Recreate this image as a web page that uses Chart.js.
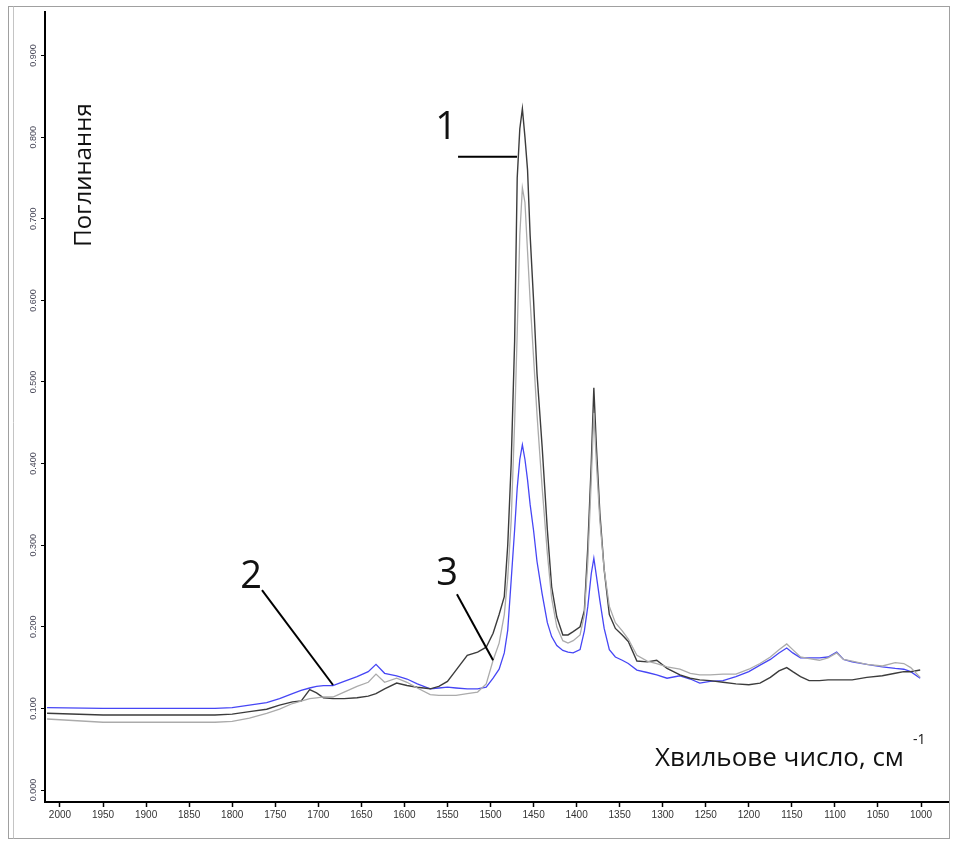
<!DOCTYPE html>
<html>
<head>
<meta charset="utf-8">
<title>IR spectra</title>
<script src="https://cdn.jsdelivr.net/npm/chart.js@4.4.1/dist/chart.umd.min.js"></script>
<style>
  html, body { margin: 0; padding: 0; background: #fff; }
  #wrap { position: relative; width: 953px; height: 841px; }
</style>
</head>
<body>
<div id="wrap"><canvas id="spec" width="953" height="841"></canvas></div>
<script>
// --- data (wavenumber, cm-1)
const wavenumbers = [2015, 1950, 1900, 1850, 1820, 1800, 1780, 1760, 1745, 1730, 1720, 1710, 1702, 1694, 1683, 1670,
  1655, 1642, 1633, 1623, 1609, 1597, 1585, 1570, 1560, 1550, 1540, 1527, 1515, 1505, 1497, 1490, 1484, 1480, 1476,
  1472, 1469, 1466, 1463, 1460, 1457, 1454, 1450, 1446, 1440, 1434, 1429, 1423, 1416, 1410, 1404, 1396, 1391, 1387,
  1383, 1380, 1377, 1373, 1368, 1362, 1355, 1347, 1340, 1330, 1318, 1307, 1295, 1280, 1268, 1257, 1245, 1230, 1215,
  1200, 1187, 1175, 1165, 1156, 1149, 1140, 1130, 1118, 1108, 1098, 1090, 1080, 1063, 1045, 1030, 1020, 1012, 1001];

// curve 1 (dark)
const absorb1 = [0.094, 0.092, 0.092, 0.092, 0.092, 0.093, 0.096, 0.099, 0.104, 0.108, 0.109, 0.123, 0.119, 0.113, 0.112, 0.112,
  0.113, 0.115, 0.118, 0.124, 0.131, 0.128, 0.126, 0.124, 0.127, 0.133, 0.147, 0.165, 0.169, 0.175, 0.192, 0.215, 0.237, 0.300, 0.400,
  0.550, 0.750, 0.810, 0.835, 0.800, 0.760, 0.680, 0.600, 0.510, 0.420, 0.319, 0.249, 0.212, 0.190, 0.190, 0.194, 0.200, 0.220, 0.298,
  0.400, 0.493, 0.420, 0.339, 0.270, 0.215, 0.198, 0.190, 0.182, 0.158, 0.157, 0.159, 0.149, 0.141, 0.137, 0.135, 0.134, 0.132, 0.130,
  0.129, 0.131, 0.138, 0.146, 0.150, 0.145, 0.139, 0.134, 0.134, 0.135, 0.135, 0.135, 0.135, 0.138, 0.140, 0.143, 0.145, 0.145, 0.147];

// curve 2 (blue)
const absorb2 = [0.101, 0.100, 0.100, 0.100, 0.100, 0.101, 0.104, 0.107, 0.112, 0.118, 0.122, 0.125, 0.127, 0.128, 0.128, 0.133,
  0.139, 0.145, 0.154, 0.143, 0.140, 0.136, 0.130, 0.124, 0.125, 0.126, 0.125, 0.124, 0.124, 0.126, 0.137, 0.148, 0.168, 0.196, 0.257,
  0.319, 0.370, 0.405, 0.423, 0.405, 0.380, 0.350, 0.318, 0.280, 0.240, 0.205, 0.188, 0.177, 0.171, 0.169, 0.168, 0.172, 0.195, 0.225,
  0.265, 0.284, 0.262, 0.232, 0.198, 0.172, 0.163, 0.159, 0.155, 0.147, 0.144, 0.141, 0.137, 0.140, 0.136, 0.131, 0.133, 0.134, 0.139,
  0.145, 0.153, 0.160, 0.168, 0.174, 0.168, 0.162, 0.162, 0.162, 0.163, 0.169, 0.160, 0.157, 0.154, 0.151, 0.149, 0.148, 0.145, 0.137];

// curve 3 (light grey)
const absorb3 = [0.087, 0.083, 0.083, 0.083, 0.083, 0.084, 0.088, 0.094, 0.099, 0.106, 0.109, 0.112, 0.113, 0.114, 0.114, 0.120,
  0.127, 0.132, 0.142, 0.132, 0.137, 0.132, 0.125, 0.117, 0.116, 0.116, 0.116, 0.118, 0.120, 0.130, 0.159, 0.180, 0.215, 0.260, 0.330,
  0.450, 0.560, 0.680, 0.738, 0.720, 0.660, 0.600, 0.530, 0.460, 0.370, 0.290, 0.235, 0.200, 0.183, 0.180, 0.183, 0.190, 0.215, 0.280,
  0.380, 0.462, 0.400, 0.330, 0.270, 0.225, 0.205, 0.195, 0.185, 0.165, 0.158, 0.155, 0.151, 0.148, 0.143, 0.141, 0.141, 0.142, 0.142,
  0.148, 0.155, 0.163, 0.172, 0.179, 0.172, 0.163, 0.161, 0.159, 0.162, 0.168, 0.160, 0.158, 0.154, 0.152, 0.156, 0.155, 0.150, 0.138];

// axis ranges and tick values
const xMin = 968.7, xMax = 2017.4;
const yMin = -0.0147, yMax = 0.9534;
const xTicks = [2000, 1950, 1900, 1850, 1800, 1750, 1700, 1650, 1600, 1550, 1500,
  1450, 1400, 1350, 1300, 1250, 1200, 1150, 1100, 1050, 1000];
const yTicks = [0, 0.1, 0.2, 0.3, 0.4, 0.5, 0.6, 0.7, 0.8, 0.9];

// callouts: label, label position, leader line from -> to (data units)
const callouts = [
  { text: '1', at: [1551.7, 0.811], from: [1537.7, 0.776], to: [1469.2, 0.776] },
  { text: '2', at: [1778.0, 0.261], from: [1765.4, 0.245], to: [1682.9, 0.1287] },
  { text: '3', at: [1550.5, 0.265], from: [1539.0, 0.240], to: [1497.0, 0.159] }
];

// --- helpers
function toPoints(xs, ys) {
  return xs.map((x, i) => ({ x: x, y: ys[i] }));
}

function lineSet(label, ys, color, width) {
  return {
    label, data: toPoints(wavenumbers, ys), borderColor: color, borderWidth: width,
    pointRadius: 0, tension: 0, fill: false
  };
}

// frame, rotated y labels, titles and callouts
const decorPlugin = {
  id: 'decor',
  afterDraw(chart) {
    const ctx = chart.ctx;
    const xs = chart.scales.x, ys = chart.scales.y;
    ctx.save();

    // window frame
    ctx.strokeStyle = '#a0a0a0';
    ctx.lineWidth = 1;
    ctx.strokeRect(8.5, 6.5, 941, 832);
    ctx.strokeStyle = '#c4c4c4';
    ctx.beginPath(); ctx.moveTo(13.5, 6.5); ctx.lineTo(13.5, 838.5); ctx.stroke();

    // y tick labels, turned like the original
    ctx.fillStyle = '#4a4a5a';
    ctx.font = '9px "Liberation Sans", Arial, sans-serif';
    ctx.textAlign = 'center';
    ctx.textBaseline = 'middle';
    ys.ticks.forEach(t => {
      const py = ys.getPixelForValue(t.value);
      ctx.save();
      ctx.translate(34, py);
      ctx.rotate(-Math.PI / 2);
      ctx.fillText(t.value.toFixed(3), 0, 0);
      ctx.restore();
    });

    // axis titles
    ctx.fillStyle = '#111';
    ctx.font = '24px "Open Sans", sans-serif';
    ctx.save();
    ctx.translate(84, 175);
    ctx.rotate(-Math.PI / 2);
    ctx.fillText('Поглинання', 0, 0);
    ctx.restore();

    ctx.textAlign = 'left';
    ctx.font = '26px "Open Sans", sans-serif';
    ctx.fillText('Хвильове число, см', 655, 759);
    ctx.font = '14px "Open Sans", sans-serif';
    ctx.fillText('-1', 913, 740);

    // callouts
    ctx.strokeStyle = '#000';
    ctx.lineWidth = 2;
    ctx.textAlign = 'center';
    ctx.font = '38px "Open Sans", sans-serif';
    callouts.forEach(c => {
      ctx.beginPath();
      ctx.moveTo(xs.getPixelForValue(c.from[0]), ys.getPixelForValue(c.from[1]));
      ctx.lineTo(xs.getPixelForValue(c.to[0]), ys.getPixelForValue(c.to[1]));
      ctx.stroke();
      ctx.fillText(c.text, xs.getPixelForValue(c.at[0]), ys.getPixelForValue(c.at[1]));
    });

    ctx.restore();
  }
};

new Chart(document.getElementById('spec').getContext('2d'), {
  type: 'line',
  data: {
    datasets: [
      lineSet('3', absorb3, '#ababab', 1.3),
      lineSet('1', absorb1, '#3c3c3c', 1.4),
      lineSet('2', absorb2, '#4646f5', 1.3)
    ]
  },
  options: {
    responsive: false,
    animation: false,
    devicePixelRatio: 1,
    layout: { padding: { left: 0, top: 12, right: 5, bottom: 0 } },
    plugins: { legend: { display: false }, tooltip: { enabled: false } },
    scales: {
      x: {
        type: 'linear', reverse: true, min: xMin, max: xMax,
        afterBuildTicks(scale) { scale.ticks = xTicks.map(v => ({ value: v })); },
        afterFit(scale) { scale.height = 39; scale.paddingLeft = 0; scale.paddingRight = 0; },
        border: { color: '#000', width: 2 },
        grid: { drawOnChartArea: false, tickLength: 5, color: '#000', tickWidth: 1.5 },
        ticks: {
          autoSkip: false, maxRotation: 0, minRotation: 0,
          padding: 2, color: '#333', font: { size: 10, family: '"Liberation Sans", Arial, sans-serif' },
          callback: v => String(v)
        }
      },
      y: {
        type: 'linear', min: yMin, max: yMax,
        afterBuildTicks(scale) { scale.ticks = yTicks.map(v => ({ value: v })); },
        afterFit(scale) { scale.width = 45; scale.paddingTop = 0; scale.paddingBottom = 0; },
        border: { color: '#000', width: 2 },
        grid: { drawOnChartArea: false, tickLength: 4, color: '#000', tickWidth: 1 },
        ticks: { display: false }
      }
    }
  },
  plugins: [decorPlugin]
});
</script>
</body>
</html>
